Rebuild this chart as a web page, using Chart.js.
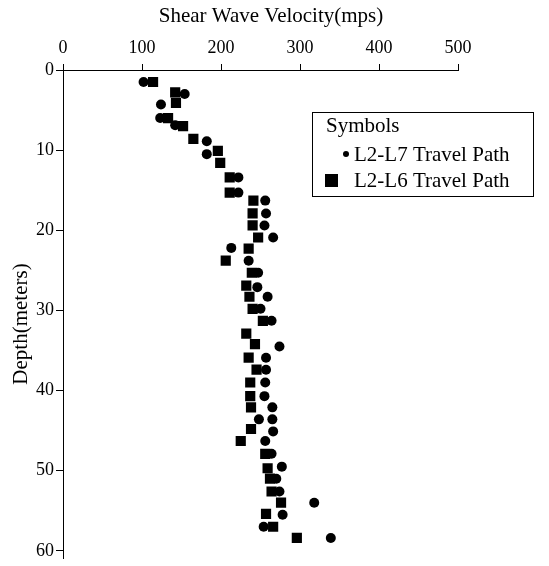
<!DOCTYPE html>
<html lang="en">
<head>
    <meta charset="UTF-8">
    <title>Shear Wave Velocity</title>
    <script src="https://cdn.jsdelivr.net/npm/chart.js@4"></script>
    <style>
        body { margin: 0; background: #fff; }
    </style>
</head>
<body>
    <canvas id="myChart" width="549" height="566"></canvas>

    <script type="text/javascript">
        // L2-L7 travel path (circles): depth in meters, velocity in mps
        var l7Depth = [1.5, 3.0, 4.3, 6.0, 6.9, 8.9, 10.5, 13.4, 15.3, 16.3, 17.9, 19.4, 20.9, 22.2, 23.8, 25.3,
                       27.1, 28.3, 29.8, 31.3, 34.5, 35.9, 37.4, 39.0, 40.7, 42.1, 43.6, 43.6, 45.1, 46.3, 47.9,
                       49.5, 51.0, 52.6, 54.0, 55.5, 57.0, 58.4];
        var l7Vel = [102, 154, 124, 123, 142, 182, 182, 222, 222, 256, 257, 255, 266, 213, 235, 247,
                     246, 259, 250, 264, 274, 257, 257, 256, 255, 265, 248, 265, 266, 256, 264,
                     277, 270, 274, 318, 278, 254, 339];

        // L2-L6 travel path (squares)
        var l6Depth = [1.5, 2.8, 4.1, 6.0, 7.0, 8.6, 10.1, 11.6, 13.4, 15.3, 16.3, 17.9, 19.4, 20.9, 22.3, 23.8,
                       25.3, 26.9, 28.3, 29.8, 31.3, 32.9, 34.2, 35.9, 37.4, 39.0, 40.7, 42.1, 44.8, 46.3,
                       47.9, 49.7, 51.0, 52.6, 54.0, 55.4, 57.0, 58.4];
        var l6Vel = [114, 142, 143, 133, 152, 165, 196, 199, 211, 211, 241, 240, 240, 247, 235, 206,
                     239, 232, 236, 240, 253, 232, 243, 235, 245, 237, 237, 238, 238, 225,
                     256, 259, 262, 264, 276, 257, 266, 296];

        var xTicks = [0, 100, 200, 300, 400, 500];
        var yTicks = [0, 10, 20, 30, 40, 50, 60];

        function toPoints(xs, ys) {
            var pts = [];
            for (var i = 0; i < xs.length; i++) {
                pts.push({x: xs[i], y: ys[i]});
            }
            return pts;
        }

        var serif = 'Liberation Serif';
        var textFont = '21px "' + serif + '"';

        // axis titles and the boxed "Symbols" key
        var annotations = {
            id: 'annotations',
            afterDraw: function(chart) {
                var c = chart.ctx;
                c.save();
                c.fillStyle = '#000';
                c.font = textFont;
                c.textBaseline = 'middle';
                c.textAlign = 'center';
                c.fillText('Shear Wave Velocity(mps)', 271, 16);

                c.save();
                c.translate(21, 324);
                c.rotate(-Math.PI / 2);
                c.fillText('Depth(meters)', 0, 0);
                c.restore();

                c.strokeStyle = '#000';
                c.lineWidth = 1;
                c.strokeRect(312.5, 112.5, 221, 84);
                c.textAlign = 'left';
                c.fillText('Symbols', 326, 126);
                c.beginPath();
                c.arc(346, 154, 3, 0, Math.PI * 2);
                c.fill();
                c.fillText('L2-L7 Travel Path', 354, 155);
                c.fillRect(325, 174, 13, 13);
                c.fillText('L2-L6 Travel Path', 354, 181);
                c.restore();
            }
        };

        var ctx = document.getElementById('myChart').getContext('2d');
        var chart = new Chart(ctx, {
            type: 'scatter',
            data: {
                datasets: [{
                    label: 'L2-L7 Travel Path',
                    data: toPoints(l7Vel, l7Depth),
                    pointStyle: 'circle',
                    pointRadius: 5,
                    backgroundColor: '#000',
                    borderWidth: 0
                }, {
                    label: 'L2-L6 Travel Path',
                    data: toPoints(l6Vel, l6Depth),
                    pointStyle: 'rect',
                    pointRadius: 7.2,
                    backgroundColor: '#000',
                    borderWidth: 0
                }]
            },
            options: {
                responsive: false,
                animation: false,
                layout: {padding: {left: 0, top: 0, right: 91, bottom: 0}},
                plugins: {
                    legend: {display: false},
                    tooltip: {enabled: false}
                },
                scales: {
                    x: {
                        type: 'linear',
                        position: 'top',
                        min: 0,
                        max: 500,
                        afterBuildTicks: function(s) { s.ticks = xTicks.map(function(v) { return {value: v}; }); },
                        afterFit: function(s) { s.height = 70; s.paddingLeft = 0; s.paddingRight = 0; },
                        ticks: {color: '#000', font: {family: serif, size: 18}, padding: 5, maxRotation: 0},
                        grid: {drawOnChartArea: false, tickLength: 6, color: '#000'},
                        border: {color: '#000', width: 1}
                    },
                    y: {
                        type: 'linear',
                        reverse: true,
                        min: 0,
                        max: 61,
                        afterBuildTicks: function(s) { s.ticks = yTicks.map(function(v) { return {value: v}; }); },
                        afterFit: function(s) { s.width = 63; s.paddingTop = 0; s.paddingBottom = 0; },
                        ticks: {color: '#000', font: {family: serif, size: 18}, padding: 2},
                        grid: {drawOnChartArea: false, tickLength: 7, color: '#000'},
                        border: {color: '#000', width: 1}
                    }
                }
            },
            plugins: [annotations]
        });
    </script>

</body>
</html>
